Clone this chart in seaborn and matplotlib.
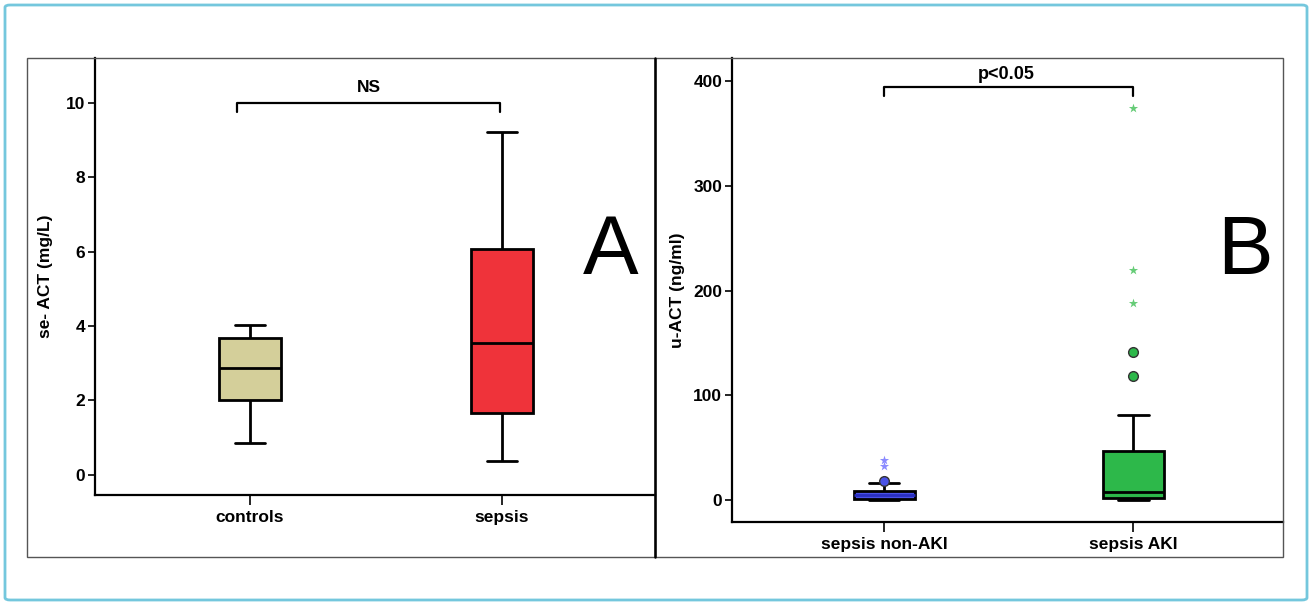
import numpy as np
import pandas as pd
import matplotlib
matplotlib.use("Agg")
import matplotlib.pyplot as plt
import seaborn as sns
from matplotlib.patches import FancyBboxPatch, Rectangle
from matplotlib.lines import Line2D

# panel A: five-number summaries (whisker low, Q1, median, Q3, whisker high)
groups_a = ["controls", "sepsis"]
controls_box = [0.85, 2.0, 2.87, 3.68, 4.03]
sepsis_box = [0.38, 1.65, 3.55, 6.07, 9.22]

# panel B
groups_b = ["sepsis non-AKI", "sepsis AKI"]
nonaki_box = [0.0, 0.8, 4.5, 8.5, 16.0]
aki_box = [0.0, 1.5, 8.0, 47.0, 81.0]
nonaki_out = [18.0]
nonaki_ext = [32.0, 38.0]
aki_out = [118.0, 141.0]
aki_ext = [188.0, 220.0, 374.0]

sns.set_theme(style="white")
plt.rcParams["font.family"] = ["Liberation Sans", "DejaVu Sans"]
plt.rcParams["text.color"] = "black"

W, H = 1312, 606
fig = plt.figure(figsize=(W / 100, H / 100), dpi=100)


def fx(px):
    return px / W


def fy(py):
    return 1 - py / H


ax_a = fig.add_axes([fx(95), fy(495), fx(655 - 95), fy(58) - fy(495)])
ax_b = fig.add_axes([fx(732), fy(522), fx(1283 - 732), fy(58) - fy(522)])

df_a = pd.DataFrame({"group": ["controls"] * 5 + ["sepsis"] * 5,
                     "value": controls_box + sepsis_box})

box_kw = dict(whis=(0, 100), width=0.245, linewidth=2, linecolor="black",
              showfliers=False, saturation=1)

sns.boxplot(data=df_a, x="group", y="value", order=groups_a, hue="group",
            palette={"controls": "#d4cf9a", "sepsis": "#ef333a"},
            legend=False, ax=ax_a, **box_kw)

sns.boxplot(x=["sepsis non-AKI"] * 5, y=nonaki_box, order=groups_b, color="#4a52e6",
            medianprops=dict(color="#2a2fc0", linewidth=2), ax=ax_b, **box_kw)
sns.boxplot(x=["sepsis AKI"] * 5, y=aki_box, order=groups_b, color="#2db84a",
            ax=ax_b, **box_kw)

# outliers (circles) and extremes (stars)
sns.stripplot(x=["sepsis non-AKI"] * len(nonaki_out), y=nonaki_out, order=groups_b,
              jitter=False, color="#4a52e6", edgecolor="#333333", linewidth=1,
              size=7, ax=ax_b)
sns.stripplot(x=["sepsis AKI"] * len(aki_out), y=aki_out, order=groups_b,
              jitter=False, color="#2db84a", edgecolor="#333333", linewidth=1,
              size=7, ax=ax_b)
sns.stripplot(x=["sepsis non-AKI"] * len(nonaki_ext), y=nonaki_ext, order=groups_b,
              jitter=False, color="#8a8aff", marker="*", size=7, linewidth=0, ax=ax_b)
sns.stripplot(x=["sepsis AKI"] * len(aki_ext), y=aki_ext, order=groups_b,
              jitter=False, color="#66cc77", marker="*", size=7, linewidth=0, ax=ax_b)

ax_a.set_ylim(-0.54, 11.2)
ax_a.set_xlim(-0.615, 1.607)
ax_a.set_yticks([0, 2, 4, 6, 8, 10])
ax_b.set_ylim(-21, 422)
ax_b.set_xlim(-0.61, 1.60)
ax_b.set_yticks([0, 100, 200, 300, 400])

for ax, lab, lx in [(ax_a, "se- ACT (mg/L)", -0.075), (ax_b, "u-ACT (ng/ml)", -0.085)]:
    ax.set_xlabel("")
    ax.set_ylabel(lab, fontsize=12.5, fontweight="bold", color="black")
    ax.yaxis.set_label_coords(lx, 0.5)
    ax.tick_params(axis="y", direction="out", length=5, width=1.2, color="black",
                   labelsize=12.5, pad=2, left=True)
    ax.tick_params(axis="x", direction="out", length=7, width=1.2, color="black",
                   labelsize=12.5, pad=4, bottom=True)
    for t in ax.get_xticklabels() + ax.get_yticklabels():
        t.set_fontweight("bold")
        t.set_color("black")
    ax.spines["left"].set_color("black")
    ax.spines["left"].set_linewidth(1.6)
    ax.spines["bottom"].set_color("black")
    ax.spines["bottom"].set_linewidth(1.6)
    ax.spines["top"].set_visible(False)
    ax.spines["right"].set_visible(False)
    ax.set_facecolor("white")

# significance brackets
ax_a.plot([-0.05, -0.05, 0.99, 0.99], [9.75, 10.0, 10.0, 9.75], color="black", lw=1.6,
          clip_on=False)
ax_a.text(0.47, 10.2, "NS", ha="center", va="bottom", fontsize=12.5, fontweight="bold",
          color="black")
ax_b.plot([0, 0, 1, 1], [386, 394, 394, 386], color="black", lw=1.6, clip_on=False)
ax_b.text(0.49, 398, "p<0.05", ha="center", va="bottom", fontsize=13, fontweight="bold",
          color="black")

# panel letters
fig.text(fx(611), fy(252), "A", ha="center", va="center", fontsize=60, color="black")
fig.text(fx(1245), fy(252), "B", ha="center", va="center", fontsize=60, color="black")

# panel frames
for x0 in (27, 655):
    x1 = 655 if x0 == 27 else 1283
    fig.add_artist(Rectangle((fx(x0), fy(557)), fx(x1 - x0), fy(58) - fy(557),
                             transform=fig.transFigure, fill=False,
                             edgecolor="#555555", lw=1.0))
fig.add_artist(Line2D([fx(655), fx(655)], [fy(557), fy(58)], transform=fig.transFigure,
                      color="black", lw=1.8))

# outer rounded border
fig.add_artist(FancyBboxPatch((fx(5), fy(600)), fx(1302), fy(5) - fy(600),
                              boxstyle="round,pad=0,rounding_size=0.004",
                              transform=fig.transFigure, fill=False,
                              edgecolor="#74c7dd", lw=2))

fig.savefig("out.png", dpi=100, facecolor="white")
